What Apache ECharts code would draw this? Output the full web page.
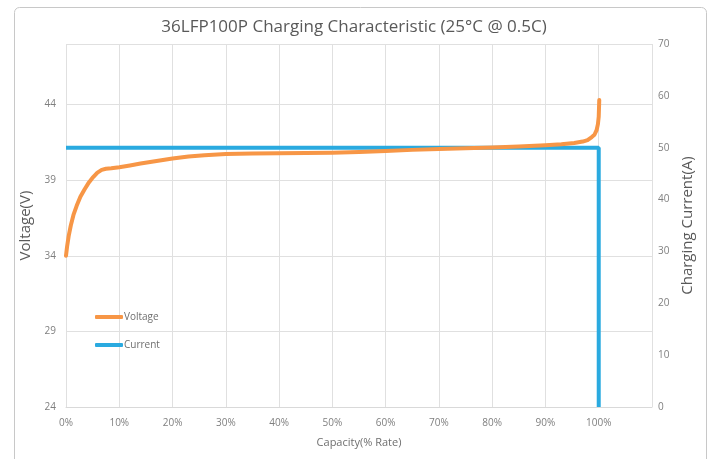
<!DOCTYPE html>
<html>
<head>
<meta charset="utf-8">
<script src="https://cdn.jsdelivr.net/npm/echarts@6/dist/echarts.min.js"></script>
<style>html,body{margin:0;padding:0;background:#fff;}#c{width:708px;height:459px;}</style>
</head>
<body>
<div id="c"></div>
<script>
var titleText = '36LFP100P Charging Characteristic (25°C @ 0.5C)';
var capacity = [0, 0.2, 0.5, 0.9, 1.4, 2.0, 2.7, 3.5, 4.3, 5.1, 5.9, 6.7, 7.5, 8.5, 10, 12, 14, 17, 20, 23, 26, 30, 35, 40, 45, 50, 55, 60, 65, 70, 75, 80, 85, 90, 93, 95.4, 97, 97.9, 98.7, 99.2, 99.6, 99.85, 100, 100.1];
var voltage = [34.0, 34.6, 35.3, 36.0, 36.7, 37.3, 37.9, 38.4, 38.85, 39.2, 39.5, 39.68, 39.75, 39.78, 39.85, 39.97, 40.1, 40.27, 40.43, 40.56, 40.65, 40.73, 40.76, 40.78, 40.79, 40.81, 40.86, 40.93, 41.0, 41.06, 41.1, 41.15, 41.22, 41.3, 41.37, 41.45, 41.55, 41.65, 41.85, 42.0, 42.3, 42.7, 43.2, 44.3];
var currentCap = [0, 100, 100];
var currentVal = [50, 50, 0];
var xTicks = [0, 10, 20, 30, 40, 50, 60, 70, 80, 90, 100];

var vData = capacity.map(function (c, i) { return [c, voltage[i]]; });
var cData = currentCap.map(function (c, i) { return [c, currentVal[i]]; });

var font = '"Open Sans", "Noto Sans", sans-serif';
var chart = echarts.init(document.getElementById('c'), null, {renderer: 'canvas'});
chart.setOption({
  backgroundColor: '#fff',
  animation: false,
  graphic: [{
    type: 'rect', left: 12, top: 5,
    shape: {width: 692, height: 470, r: 5},
    style: {fill: 'none', stroke: '#c8c8c8', lineWidth: 1}, z: -1
  }],
  title: {
    text: titleText, left: 'center', top: 14,
    textStyle: {fontFamily: font, fontSize: 17, fontWeight: 'normal', color: '#595959'}
  },
  legend: {
    orient: 'vertical', left: 90, top: 307, itemWidth: 28, itemHeight: 4, itemGap: 18,
    textStyle: {fontFamily: font, fontSize: 10, color: '#6f6f6f', padding: [0, 0, 0, -4]},
    data: [
      {name: 'Voltage', icon: 'roundRect', itemStyle: {color: '#F79646'}},
      {name: 'Current', icon: 'roundRect', itemStyle: {color: '#2AAAE0'}}
    ]
  },
  grid: {left: 66, right: 56, top: 44, bottom: 52, containLabel: false},
  xAxis: {
    type: 'value', min: 0, max: 110, interval: 10,
    name: 'Capacity(% Rate)', nameLocation: 'middle', nameGap: 30,
    nameTextStyle: {fontFamily: font, fontSize: 11, color: '#6f6f6f'},
    axisLine: {show: true, lineStyle: {color: '#d9d9d9'}},
    axisTick: {show: false},
    axisLabel: {fontFamily: font, fontSize: 10, color: '#7f7f7f', margin: 11,
      formatter: function (v) { return xTicks.indexOf(v) >= 0 ? v + '%' : ''; }},
    splitLine: {show: true, lineStyle: {color: '#e0e0e0'}}
  },
  yAxis: [{
    type: 'value', min: 24, max: 48, interval: 5,
    name: 'Voltage(V)', nameLocation: 'middle', nameGap: 28,
    nameTextStyle: {fontFamily: font, fontSize: 15, color: '#595959'},
    axisLine: {show: false}, axisTick: {show: false},
    axisLabel: {fontFamily: font, fontSize: 10, color: '#7f7f7f', margin: 10,
      formatter: function (v) { return v > 44 ? '' : String(v); }},
    splitLine: {show: true, lineStyle: {color: '#e0e0e0'}}
  }, {
    type: 'value', min: 0, max: 70, interval: 10, position: 'right',
    name: 'Charging Current(A)', nameLocation: 'middle', nameGap: 20,
    nameTextStyle: {fontFamily: font, fontSize: 15, color: '#595959'},
    axisLine: {show: false}, axisTick: {show: false},
    axisLabel: {fontFamily: font, fontSize: 10, color: '#7f7f7f', margin: 6},
    splitLine: {show: false}
  }],
  series: [{
    name: 'Current', type: 'line', yAxisIndex: 1, data: cData,
    symbol: 'none', lineStyle: {color: '#2AAAE0', width: 4}, itemStyle: {color: '#2AAAE0'}, z: 2
  }, {
    name: 'Voltage', type: 'line', yAxisIndex: 0, data: vData,
    symbol: 'none', smooth: false,
    lineStyle: {color: '#F79646', width: 4, cap: 'round', join: 'round'}, itemStyle: {color: '#F79646'}, z: 3
  }]
});
</script>
</body>
</html>
